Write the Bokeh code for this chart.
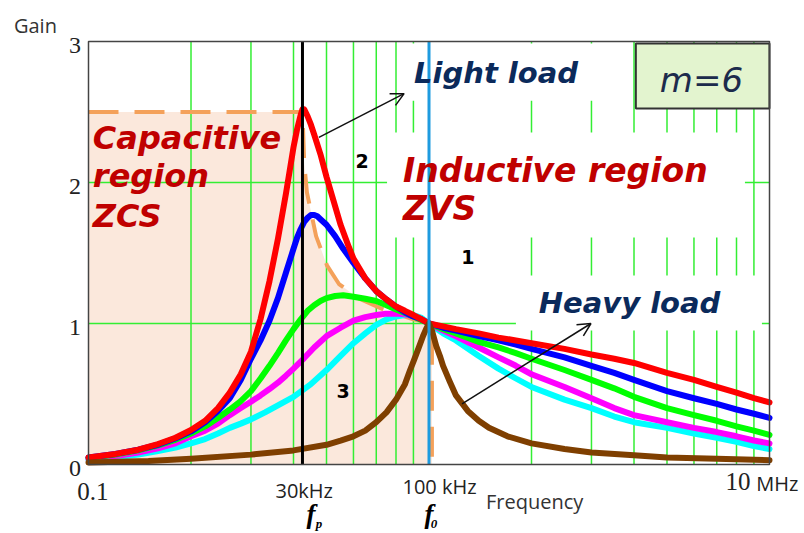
from bokeh.plotting import figure
from bokeh.models import Range1d, Label, Arrow, OpenHead
from bokeh.embed import file_html
from bokeh.resources import INLINE

# ---------------- data (normalised frequency f/f0, gain) ----------------
red_f = [0.1, 0.12, 0.14, 0.16, 0.18, 0.2, 0.22, 0.24, 0.26, 0.28, 0.3, 0.32, 0.34, 0.36, 0.38, 0.4,
         0.41, 0.42, 0.425, 0.43, 0.44, 0.45, 0.46, 0.48, 0.5, 0.52, 0.55, 0.58, 0.6, 0.65, 0.7, 0.75,
         0.8, 0.85, 0.9, 0.95, 1.0, 1.1, 1.2, 1.4, 1.6, 1.8, 2, 2.5, 3, 3.5, 4, 5, 6, 7, 8, 9, 10]
red_g = [0.05, 0.075, 0.105, 0.145, 0.19, 0.245, 0.31, 0.40, 0.51, 0.64, 0.80, 1.03, 1.30, 1.60, 1.92, 2.25,
         2.38, 2.48, 2.52, 2.52, 2.47, 2.41, 2.34, 2.20, 2.04, 1.90, 1.70, 1.55, 1.46, 1.32, 1.23, 1.17,
         1.12, 1.09, 1.06, 1.03, 1.00, 0.98, 0.96, 0.93, 0.90, 0.88, 0.86, 0.82, 0.78, 0.75, 0.72, 0.65,
         0.60, 0.55, 0.51, 0.47, 0.44]

blue_f = [0.1, 0.12, 0.14, 0.16, 0.18, 0.2, 0.22, 0.24, 0.26, 0.28, 0.3, 0.32, 0.34, 0.36, 0.38, 0.4,
          0.41, 0.42, 0.43, 0.44, 0.45, 0.46, 0.47, 0.48, 0.5, 0.53, 0.56, 0.6, 0.65, 0.7, 0.75, 0.8, 0.85,
          0.9, 0.95, 1.0, 1.1, 1.2, 1.4, 1.6, 1.8, 2, 2.5, 3, 3.5, 4, 5, 6, 7, 8, 9, 10]
blue_g = [0.05, 0.075, 0.105, 0.14, 0.185, 0.235, 0.30, 0.38, 0.47, 0.60, 0.75, 0.88, 1.02, 1.18, 1.36, 1.53,
          1.61, 1.67, 1.72, 1.75, 1.77, 1.77, 1.76, 1.74, 1.70, 1.62, 1.53, 1.43, 1.32, 1.23, 1.17, 1.12, 1.08,
          1.05, 1.03, 1.00, 0.97, 0.95, 0.91, 0.88, 0.85, 0.82, 0.76, 0.70, 0.65, 0.60, 0.52, 0.47, 0.43,
          0.39, 0.36, 0.33]

green_f = [0.1, 0.12, 0.14, 0.16, 0.18, 0.2, 0.22, 0.24, 0.26, 0.28, 0.3, 0.32, 0.34, 0.36, 0.38, 0.4,
           0.42, 0.44, 0.46, 0.48, 0.5, 0.53, 0.56, 0.6, 0.65, 0.7, 0.75, 0.8, 0.85, 0.9, 0.95,
           1.0, 1.1, 1.2, 1.4, 1.6, 1.8, 2, 2.5, 3, 3.5, 4, 5, 6, 7, 8, 9, 10]
green_g = [0.045, 0.07, 0.10, 0.135, 0.175, 0.22, 0.27, 0.33, 0.39, 0.45, 0.52, 0.61, 0.70, 0.79, 0.88, 0.96,
           1.03, 1.09, 1.13, 1.16, 1.18, 1.195, 1.20, 1.19, 1.175, 1.16, 1.13, 1.10, 1.075, 1.05, 1.025,
           1.00, 0.96, 0.93, 0.87, 0.83, 0.79, 0.75, 0.67, 0.60, 0.54, 0.48, 0.40, 0.35, 0.31, 0.27, 0.24, 0.21]

magenta_f = [0.1, 0.12, 0.14, 0.16, 0.18, 0.2, 0.22, 0.24, 0.26, 0.28, 0.3, 0.32, 0.34, 0.36, 0.38, 0.4,
             0.43, 0.46, 0.5, 0.55, 0.6, 0.65, 0.7, 0.75, 0.8, 0.85, 0.9, 0.95,
             1.0, 1.1, 1.2, 1.4, 1.6, 1.8, 2, 2.5, 3, 3.5, 4, 5, 6, 7, 8, 9, 10]
magenta_g = [0.04, 0.06, 0.085, 0.115, 0.15, 0.20, 0.24, 0.29, 0.35, 0.40, 0.445, 0.49, 0.535, 0.58, 0.63, 0.68,
             0.755, 0.83, 0.91, 0.97, 1.02, 1.045, 1.06, 1.07, 1.07, 1.065, 1.05, 1.03,
             1.00, 0.95, 0.91, 0.83, 0.76, 0.70, 0.64, 0.55, 0.47, 0.40, 0.35, 0.30, 0.26, 0.23, 0.20, 0.17, 0.15]

cyan_f = [0.1, 0.12, 0.14, 0.16, 0.18, 0.2, 0.22, 0.24, 0.26, 0.28, 0.3, 0.33, 0.36, 0.4, 0.45, 0.5,
          0.55, 0.6, 0.65, 0.7, 0.75, 0.8, 0.85, 0.9, 0.95,
          1.0, 1.1, 1.2, 1.4, 1.6, 1.8, 2, 2.5, 3, 3.5, 4, 5, 6, 7, 8, 9, 10]
cyan_g = [0.035, 0.05, 0.07, 0.095, 0.12, 0.15, 0.18, 0.22, 0.26, 0.29, 0.32, 0.37, 0.42, 0.48, 0.57, 0.67,
          0.77, 0.86, 0.93, 0.99, 1.03, 1.05, 1.06, 1.06, 1.04,
          1.00, 0.93, 0.88, 0.77, 0.68, 0.61, 0.55, 0.46, 0.40, 0.34, 0.30, 0.26, 0.22, 0.19, 0.16, 0.13, 0.11]

brown_f = [0.1, 0.15, 0.2, 0.3, 0.4, 0.5, 0.55, 0.6, 0.65, 0.7, 0.75, 0.8, 0.85, 0.88, 0.9, 0.93, 0.96,
           0.98, 1.0, 1.02, 1.05, 1.08, 1.1, 1.15, 1.2, 1.3, 1.4, 1.5, 1.7, 2, 2.5, 3, 4, 5, 7, 10]
brown_g = [0.014, 0.025, 0.04, 0.07, 0.10, 0.14, 0.17, 0.20, 0.24, 0.30, 0.37, 0.46, 0.57, 0.67, 0.73, 0.82,
           0.91, 0.96, 1.00, 0.95, 0.84, 0.76, 0.70, 0.59, 0.49, 0.38, 0.31, 0.26, 0.20, 0.15, 0.11, 0.085,
           0.065, 0.05, 0.04, 0.03]

# boundary of the capacitive region (locus of the peaks)
locus_f = [0.1, 0.425, 0.43, 0.438, 0.466, 0.502, 0.544, 0.62, 0.75, 0.9, 1.02, 1.02]
locus_g = [2.5, 2.5, 2.14, 1.93, 1.62, 1.41, 1.28, 1.18, 1.09, 1.03, 1.0, 0.0]

f_p = 0.425      # 30 kHz marker
f_0 = 1.0        # 100 kHz resonance

gain_ticks = [0, 1, 2, 3]
x_grid = [0.2, 0.3, 0.4, 0.5, 0.6, 0.7, 0.8, 0.9, 2, 3, 4, 5, 6, 7, 8, 9]
y_grid = [1, 2]
x_min, x_max, y_min, y_max = 0.1, 10, 0, 3

curves = [
    (cyan_f, cyan_g, "#00FFFF"),
    (magenta_f, magenta_g, "#FF00FF"),
    (green_f, green_g, "#00FF00"),
    (blue_f, blue_g, "#0000FF"),
    (red_f, red_g, "#FF0000"),
    (brown_f, brown_g, "#7F3F00"),
]

# ---------------- figure (frame spans the whole canvas, box drawn inside) ----------------
p = figure(width=804, height=533, x_axis_type="log",
           x_range=Range1d(0.05515, 12.67), y_range=Range1d(-0.4894, 3.2908),
           output_backend="svg", toolbar_location=None,
           min_border=0)
p.axis.visible = False
p.grid.visible = False
p.outline_line_color = None
p.background_fill_color = "white"
p.border_fill_color = "white"

# capacitive region shading
p.patch([x_min] + locus_f + [x_min], [y_min] + locus_g + [y_min],
        fill_color="#FBE8DC", line_color=None)

# green grid
p.segment(x0=x_grid, y0=[y_min] * len(x_grid), x1=x_grid, y1=[y_max] * len(x_grid),
          line_color="#33EE33", line_width=1.5)
p.segment(x0=[x_min] * len(y_grid), y0=y_grid, x1=[x_max] * len(y_grid), y1=y_grid,
          line_color="#33EE33", line_width=1.5)

# white backgrounds of the text boxes (they hide the grid)
p.quad(left=[0.82, 0.753, 1.80], right=[3.6, 8.47, 9.5],
       bottom=[2.58, 1.61, 0.95], top=[2.985, 2.355, 1.34],
       fill_color="white", line_color=None)
# m=6 box
p.quad(left=[4.05], right=[x_max], bottom=[2.525], top=[2.985],
       fill_color="#E3F4CF", line_color="#333333", line_width=2)

# dashed peak locus
p.line(locus_f, locus_g, line_color="#F4A15A", line_width=4, line_dash="30 16")

# gain curves
for fx, gy, col in curves:
    p.line(fx, gy, line_color=col, line_width=6, line_join="round", line_cap="round")

# resonance markers
p.segment(x0=[f_p], y0=[y_min], x1=[f_p], y1=[y_max], line_color="black", line_width=3)
p.segment(x0=[f_0], y0=[y_min], x1=[f_0], y1=[y_max], line_color="#1E9BDF", line_width=3)

# plot box
p.quad(left=[x_min], right=[x_max], bottom=[y_min], top=[y_max],
       fill_color=None, line_color="#444444", line_width=1.5)

# ---------------- texts ----------------
def lab(x, y, text, font="DejaVu Sans", size="32px", style="bold italic",
        color="#C00000", align="left", baseline="alphabetic"):
    p.add_layout(Label(x=x, y=y, text=text, text_font=font, text_font_size=size,
                       text_font_style=style, text_color=color,
                       text_align=align, text_baseline=baseline))

navy = "#0B2A5B"
lab(0.103, 2.319, "Capacitive")
lab(0.103, 2.044, "region")
lab(0.103, 1.759, "ZCS")
lab(0.839, 2.086, "Inductive region", size="33px")
lab(0.839, 1.817, "ZVS", size="33px")
lab(0.904, 2.78, "Light load", size="29px", color=navy)
lab(2.10, 1.143, "Heavy load", size="29px", color=navy)
lab(6.31, 2.724, "m=6", size="34px", style="italic", color="#1C2B4C", align="center")

lab(0.636, 2.15, "2", size="19px", style="bold", color="black", align="center", baseline="middle")
lab(1.30, 1.47, "1", size="19px", style="bold", color="black", align="center", baseline="middle")
lab(0.559, 0.52, "3", size="19px", style="bold", color="black", align="center", baseline="middle")

# axis texts
for t in gain_ticks:
    lab(0.0951, t - 0.025, str(t), font="Liberation Serif", size="24px", style="normal",
        color="#222222", align="right")
lab(0.0604, 3.114, "Gain", font="Open Sans", size="20px", style="normal", color="#333333")
lab(1.47, -0.262, "Frequency", font="Open Sans", size="20px", style="normal", color="#333333")
lab(0.103, -0.195, "0.1", font="Liberation Serif", size="25px", style="normal", color="#222222", align="center")
lab(0.43, -0.184, "30kHz", font="Open Sans", size="20px", style="normal", color="#222222", align="center")
lab(1.074, -0.156, "100 kHz", font="Open Sans", size="20px", style="normal", color="#222222", align="center")
lab(7.42, -0.124, "10", font="Liberation Serif", size="25px", style="normal", color="#222222")
lab(9.15, -0.134, "MHz", font="Open Sans", size="20px", style="normal", color="#222222")

lab(0.450, -0.35, "f", font="Liberation Serif", size="27px", style="bold italic", color="black", align="center")
lab(0.475, -0.42, "p", font="Liberation Serif", size="13px", style="bold italic", color="black", align="center")
lab(1.0, -0.35, "f", font="Liberation Serif", size="27px", style="bold italic", color="black", align="center")
lab(1.034, -0.42, "0", font="Liberation Serif", size="13px", style="bold italic", color="black", align="center")

# arrows
p.add_layout(Arrow(end=OpenHead(size=13, line_width=1.5, line_color="#111111"),
                   x_start=0.475, y_start=2.32, x_end=0.845, y_end=2.63,
                   line_width=1.5, line_color="#111111"))
p.add_layout(Arrow(end=OpenHead(size=13, line_width=1.5, line_color="#111111"),
                   x_start=1.25, y_start=0.43, x_end=2.99, y_end=1.0,
                   line_width=1.5, line_color="#111111"))

open("out.html", "w").write(file_html(p, INLINE))
